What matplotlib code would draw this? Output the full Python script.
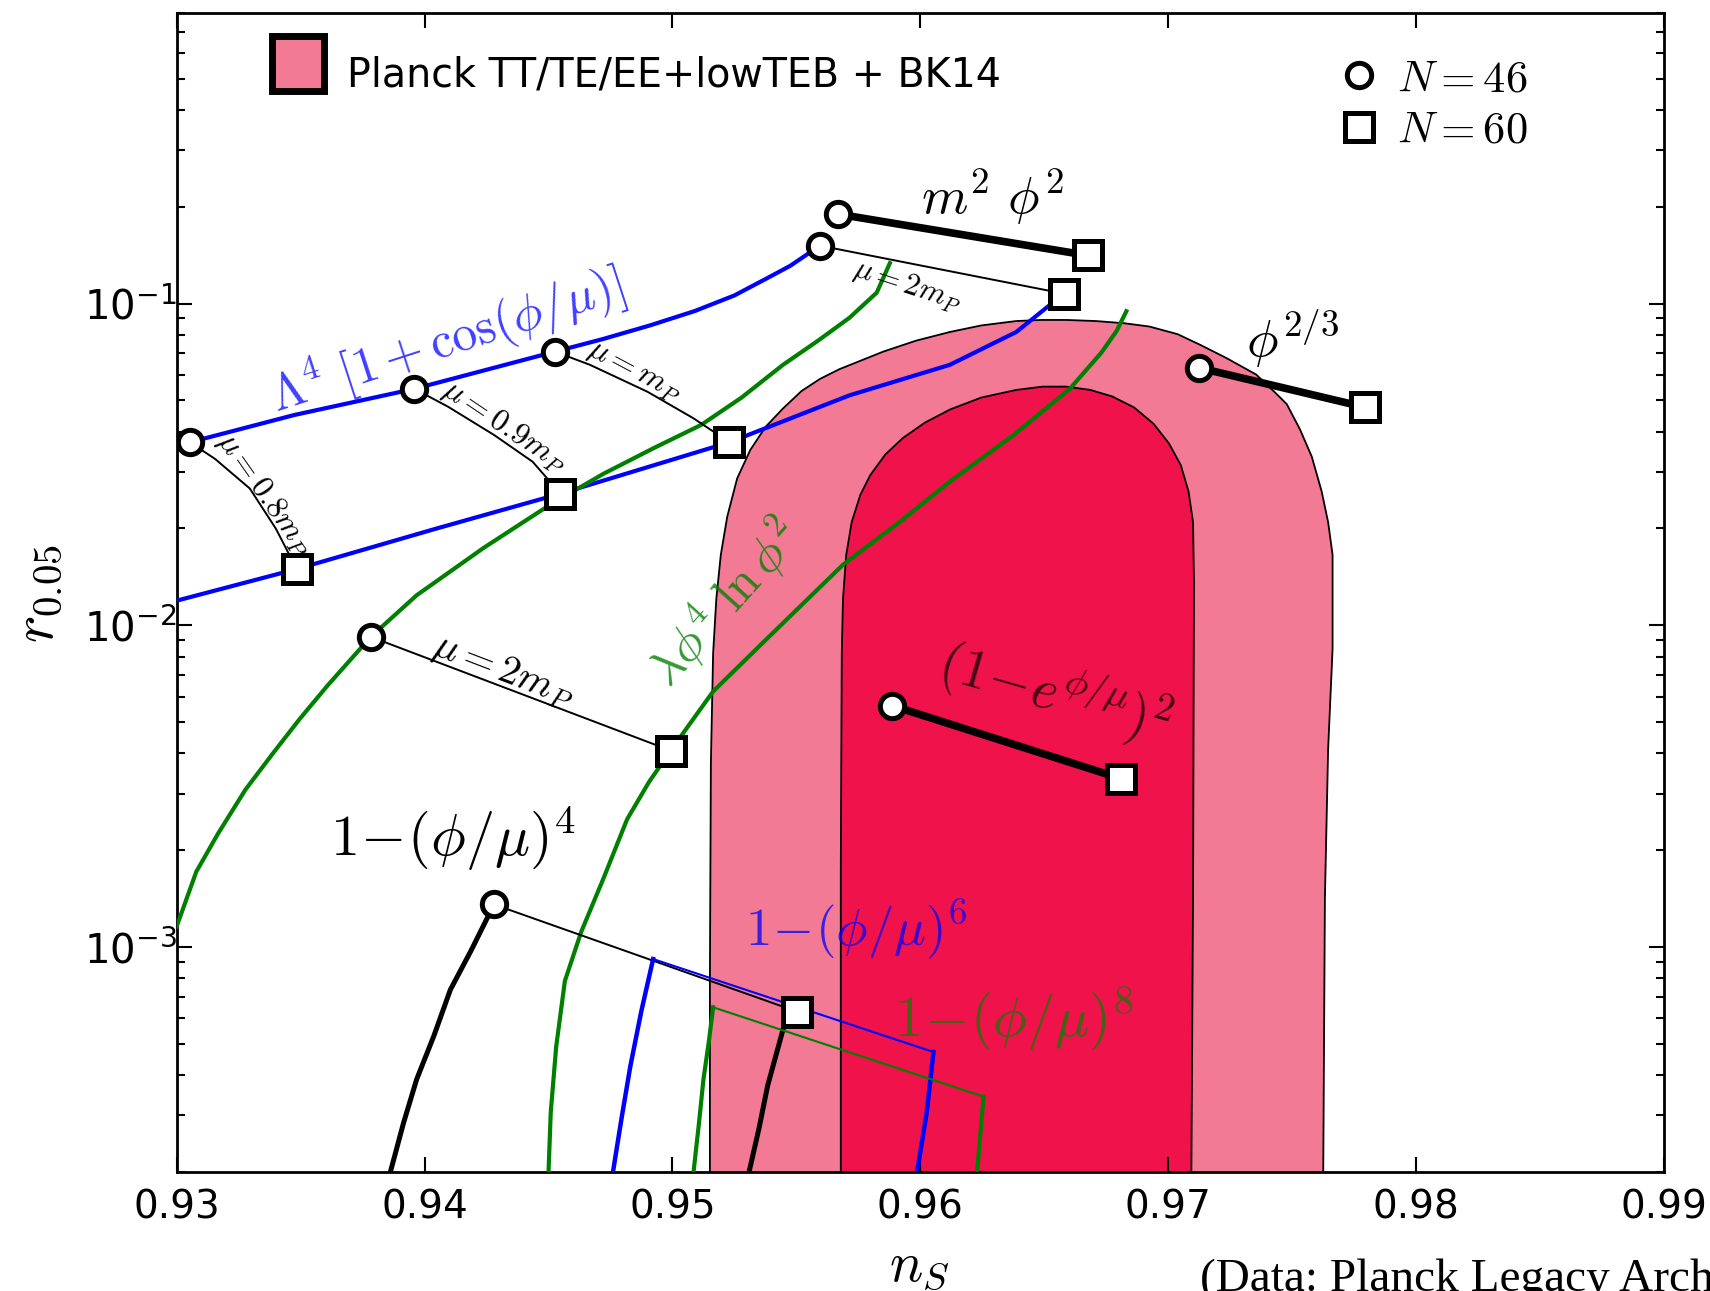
import matplotlib
matplotlib.use("Agg")
import matplotlib.pyplot as plt
import matplotlib.ticker as mticker
from matplotlib.patches import Patch, Rectangle
from matplotlib.lines import Line2D
from matplotlib.legend_handler import HandlerPatch
from matplotlib.font_manager import FontProperties

# --- Planck TT/TE/EE+lowTEB + BK14 contours (outer / inner)
outer_ns = [0.95151, 0.95151, 0.95155, 0.95164, 0.95177, 0.95195, 0.95221, 0.95261, 0.95314,
            0.95375, 0.95446, 0.95521, 0.95595, 0.95674, 0.95762, 0.95850, 0.95982, 0.96119,
            0.96246, 0.96387, 0.96488, 0.96589, 0.96708, 0.96823, 0.96924, 0.97038, 0.97131,
            0.97236, 0.97355, 0.97434, 0.97478, 0.97531, 0.97579, 0.97619, 0.97645, 0.97663,
            0.97663, 0.97645, 0.97632, 0.97623]
outer_r = [1e-4, 7.85e-4, 3.75e-3, 8.19e-3, 0.01211, 0.01656, 0.02177, 0.02862, 0.03508,
           0.04134, 0.04721, 0.05351, 0.05832, 0.06256, 0.06659, 0.07089, 0.07666, 0.08160,
           0.08552, 0.08825, 0.08894, 0.08894, 0.08825, 0.08687, 0.08485, 0.08033, 0.07430,
           0.06764, 0.06016, 0.05266, 0.04871, 0.04071, 0.03346, 0.02606, 0.02093, 0.01656,
           0.00845, 0.00412, 0.00141, 1e-4]
inner_ns = [0.95679, 0.95679, 0.95683, 0.95688, 0.95701, 0.95723, 0.95758, 0.95798, 0.95859,
            0.95930, 0.96018, 0.96119, 0.96246, 0.96387, 0.96493, 0.96589, 0.96686, 0.96774,
            0.96862, 0.96941, 0.97003, 0.97051, 0.97082, 0.97100, 0.97104, 0.97100, 0.97091]
inner_r = [1e-4, 0.001715, 0.00819, 0.01211, 0.01656, 0.02093, 0.02545, 0.02930, 0.03399,
           0.03823, 0.04264, 0.04684, 0.05105, 0.05391, 0.05519, 0.05519, 0.05391, 0.05145,
           0.04757, 0.04231, 0.03675, 0.03144, 0.02606, 0.02093, 0.01362, 0.00141, 1e-4]

# --- natural inflation, N=46 and N=60 tracks
nat46_ns = [0.93053, 0.93475, 0.93959, 0.94526, 0.94720, 0.94909, 0.95090, 0.95250, 0.95380,
            0.95475, 0.95543, 0.95595]
nat46_r = [0.03706, 0.04506, 0.05433, 0.07089, 0.07760, 0.08552, 0.09480, 0.10600, 0.11969,
           0.13100, 0.14215, 0.15135]
nat60_ns = [0.93000, 0.93484, 0.94047, 0.94548, 0.95230, 0.95714, 0.96119, 0.96387, 0.96524, 0.96581]
nat60_r = [0.01193, 0.01496, 0.01998, 0.02566, 0.03706, 0.05186, 0.06452, 0.08160, 0.09922, 0.10730]

# connectors at fixed mu (N=46 -> N=60)
mu08_ns = [0.93053, 0.93154, 0.93295, 0.93400, 0.93484]
mu08_r = [0.03706, 0.03294, 0.02662, 0.01998, 0.01496]
mu09_ns = [0.93959, 0.94095, 0.94281, 0.94436, 0.94548]
mu09_r = [0.05433, 0.04779, 0.03902, 0.03224, 0.02566]
mu10_ns = [0.94526, 0.94667, 0.94899, 0.95085, 0.95230]
mu10_r = [0.07089, 0.06452, 0.05321, 0.04399, 0.03706]
mu20_ns = [0.95595, 0.96581]
mu20_r = [0.15135, 0.10730]

# --- lambda phi^4 ln phi^2 tracks
lnp46_ns = [0.93000, 0.93079, 0.93167, 0.93277, 0.93387, 0.93497, 0.93607, 0.93783, 0.93968,
            0.94236, 0.94500, 0.94720, 0.94927, 0.95116, 0.95279, 0.95446, 0.95587, 0.95714,
            0.95824, 0.95877]
lnp46_r = [0.001160, 0.001715, 0.002254, 0.003083, 0.003990, 0.005126, 0.006479, 0.009211, 0.01240,
           0.01736, 0.02354, 0.02954, 0.03563, 0.04197, 0.05105, 0.06452, 0.07666, 0.09034,
           0.10814, 0.13353]
lnp60_ns = [0.94500, 0.94509, 0.94531, 0.94566, 0.94632, 0.94720, 0.94817, 0.94905, 0.94993,
            0.95164, 0.95380, 0.95688, 0.95916, 0.96119, 0.96378, 0.96603, 0.96730, 0.96792, 0.96831]
lnp60_r = [2.0e-4, 3.07e-4, 4.91e-4, 7.85e-4, 1.116e-3, 1.623e-3, 2.496e-3, 3.256e-3, 4.085e-3,
           6.231e-3, 9.069e-3, 0.01543, 0.02093, 0.02796, 0.03913, 0.05433, 0.07036, 0.08225, 0.09467]

# --- hilltop 1-(phi/mu)^p tracks
hill4_46_ns = [0.93862, 0.93915, 0.93968, 0.94038, 0.94104, 0.94188, 0.94280]
hill4_46_r = [2.0e-4, 2.84e-4, 3.88e-4, 5.31e-4, 7.37e-4, 9.77e-4, 1.357e-3]
hill4_60_ns = [0.95309, 0.95349, 0.95384, 0.95450, 0.95503]
hill4_60_r = [2.0e-4, 2.73e-4, 3.71e-4, 5.69e-4, 6.30e-4]
hill6_46_ns = [0.94760, 0.94795, 0.94830, 0.94874, 0.94922]
hill6_46_r = [2.0e-4, 2.95e-4, 4.26e-4, 6.30e-4, 9.18e-4]
hill6_60_ns = [0.96053, 0.96026, 0.95987]
hill6_60_r = [4.72e-4, 3.07e-4, 2.0e-4]
hill8_46_ns = [0.95085, 0.95107, 0.95125, 0.95147, 0.95164]
hill8_46_r = [2.0e-4, 2.84e-4, 3.88e-4, 5.10e-4, 6.50e-4]
hill8_60_ns = [0.96255, 0.96242, 0.96229]
hill8_60_r = [3.43e-4, 2.63e-4, 2.0e-4]

# --- model end points [N=46, N=60]
m2_ns, m2_r = [0.95666, 0.96677], [0.1898, 0.1411]
phi23_ns, phi23_r = [0.97126, 0.97795], [0.0631, 0.0476]
expo_ns, expo_r = [0.95886, 0.96809], [0.00563, 0.00334]
lnpmu2_ns, lnpmu2_r = [0.93783, 0.94993], [0.00921, 0.00408]
hill4_ns, hill4_r = [0.94280, 0.95503], [0.001357, 0.000630]
nat_circ_ns = [0.93053, 0.93959, 0.94526, 0.95595]
nat_circ_r = [0.03706, 0.05433, 0.07089, 0.15135]
nat_sq_ns = [0.93484, 0.94548, 0.95230, 0.96581]
nat_sq_r = [0.01496, 0.02566, 0.03706, 0.10730]

C_OUT = '#f27a94'
C_IN = '#f0124a'
BLUE = '#0000ff'
GREEN = '#008000'
CM = dict(math_fontfamily='cm')

fig = plt.figure(figsize=(17.1, 12.91), dpi=100)
ax = fig.add_axes([0.10333, 0.09218, 0.86977, 0.89775])
ax.set_yscale('log')

# contours
ax.fill(outer_ns, outer_r, facecolor=C_OUT, edgecolor='k', lw=1.3, zorder=1)
ax.fill(inner_ns, inner_r, facecolor=C_IN, edgecolor='k', lw=1.3, zorder=1)

# coloured tracks
ax.plot(nat46_ns, nat46_r, color=BLUE, lw=3, zorder=3)
ax.plot(nat60_ns, nat60_r, color=BLUE, lw=3, zorder=3)
ax.plot(lnp46_ns, lnp46_r, color=GREEN, lw=3, zorder=3)
ax.plot(lnp60_ns, lnp60_r, color=GREEN, lw=3, zorder=3)
for xs, ys in [(mu08_ns, mu08_r), (mu09_ns, mu09_r), (mu10_ns, mu10_r), (mu20_ns, mu20_r),
               (lnpmu2_ns, lnpmu2_r), (hill4_ns, hill4_r)]:
    ax.plot(xs, ys, color='k', lw=1.4, zorder=3)

ax.plot(hill4_46_ns, hill4_46_r, color='k', lw=3.6, zorder=3)
ax.plot(hill4_60_ns, hill4_60_r, color='k', lw=3.6, zorder=3)
ax.plot(hill6_46_ns, hill6_46_r, color=BLUE, lw=3.2, zorder=3)
ax.plot(hill6_60_ns, hill6_60_r, color=BLUE, lw=3.2, zorder=3)
ax.plot([hill6_46_ns[-1], hill6_60_ns[0]], [hill6_46_r[-1], hill6_60_r[0]], color=BLUE, lw=1.5, zorder=3)
ax.plot(hill8_46_ns, hill8_46_r, color=GREEN, lw=3.0, zorder=3)
ax.plot(hill8_60_ns, hill8_60_r, color=GREEN, lw=3.0, zorder=3)
ax.plot([hill8_46_ns[-1], hill8_60_ns[0]], [hill8_46_r[-1], hill8_60_r[0]], color=GREEN, lw=1.5, zorder=3)

# thick single-field segments
for xs, ys in [(m2_ns, m2_r), (phi23_ns, phi23_r), (expo_ns, expo_r)]:
    ax.plot(xs, ys, color='k', lw=5.5, zorder=4)

# end point markers
circ = dict(marker='o', ms=17.5, mfc='w', mec='k', mew=3.6, ls='none', zorder=5)
sq = dict(marker='s', ms=20.5, mfc='w', mec='k', mew=3.6, ls='none', zorder=5)
all_c_ns = nat_circ_ns + [m2_ns[0], phi23_ns[0], expo_ns[0], lnpmu2_ns[0], hill4_ns[0]]
all_c_r = nat_circ_r + [m2_r[0], phi23_r[0], expo_r[0], lnpmu2_r[0], hill4_r[0]]
all_s_ns = nat_sq_ns + [m2_ns[1], phi23_ns[1], expo_ns[1], lnpmu2_ns[1], hill4_ns[1]]
all_s_r = nat_sq_r + [m2_r[1], phi23_r[1], expo_r[1], lnpmu2_r[1], hill4_r[1]]
ax.plot(all_c_ns, all_c_r, **circ)
ax.plot(all_s_ns, all_s_r, **sq)

# model labels
lab = dict(ha='center', va='center', zorder=6, **CM)
ax.text(0.96290, 0.2151, r'$m^2\ \phi^2$', fontsize=38, color='k', **lab)
ax.text(0.97500, 0.0778, r'$\phi^{2/3}$', fontsize=38, color='k', **lab)
ax.text(0.94091, 0.0761, r'$\Lambda^4\ [1+\cos(\phi/\mu)]$', fontsize=36, color=BLUE,
        alpha=0.75, rotation=18, **lab)
ax.text(0.93352, 0.02545, r'$\mu=0.8m_P$', fontsize=23, rotation=-55, **lab)
ax.text(0.94320, 0.04134, r'$\mu=0.9m_P$', fontsize=23, rotation=-34, **lab)
ax.text(0.94848, 0.06160, r'$\mu=m_P$', fontsize=23, rotation=-28, **lab)
ax.text(0.95947, 0.1133, r'$\mu=2m_P$', fontsize=22, rotation=-18, **lab)
ax.text(0.94320, 0.00723, r'$\mu=2m_P$', fontsize=29, rotation=-21, **lab)
ax.text(0.95209, 0.01177, r'$\lambda\phi^4\ \ln\phi^2$', fontsize=36, color=GREEN,
        alpha=0.8, rotation=48, **lab)
ax.text(0.96545, 0.00618, r'$(1\!-\!e^{\phi/\mu})^2$', fontsize=40, color='k', alpha=0.7,
        rotation=-16, **lab)
ax.text(0.94113, 0.00217, r'$1\!-\!(\phi/\mu)^4$', fontsize=42, color='k', **lab)
ax.text(0.95741, 0.001142, r'$1\!-\!(\phi/\mu)^6$', fontsize=38, color=BLUE, alpha=0.75, **lab)
ax.text(0.96378, 0.000597, r'$1\!-\!(\phi/\mu)^8$', fontsize=41, color=GREEN, alpha=0.7, **lab)

# axes
ax.set_xlim(0.93, 0.99)
ax.set_ylim(2e-4, 0.8)
ax.xaxis.set_major_locator(mticker.MultipleLocator(0.01))
ax.xaxis.set_major_formatter(mticker.FormatStrFormatter('%.2f'))
ax.yaxis.set_minor_formatter(mticker.NullFormatter())
ax.tick_params(which='both', direction='in', top=True, right=True, width=1.5)
ax.tick_params(which='major', length=11, labelsize=28)
ax.tick_params(axis='x', which='major', pad=12)
ax.tick_params(axis='y', which='major', pad=0, labelsize=29)
ax.tick_params(which='minor', length=6)
for s in ax.spines.values():
    s.set_linewidth(2)

ax.set_xlabel(r'$n_S$', fontsize=40, **CM)
ax.set_ylabel(r'$r_{0.05}$', fontsize=42, **CM)
ax.xaxis.set_label_coords(0.499, -0.057)
ax.yaxis.set_label_coords(-0.075, 0.499)


# legend patch drawn a little higher than the text baseline, as in the original
def raised_patch(legend, orig_handle, xdescent, ydescent, width, height, fontsize):
    return Rectangle((-xdescent, -ydescent + 0.256 * fontsize), width, height)


leg1 = ax.legend(handles=[Patch(facecolor=C_OUT, edgecolor='k', lw=5)],
                 labels=['Planck TT/TE/EE+lowTEB + BK14'], loc='upper left',
                 bbox_to_anchor=(0.0642, 0.971), frameon=False, fontsize=28.5,
                 handlelength=1.3, handleheight=1.74, handletextpad=0.6,
                 borderpad=0, borderaxespad=0,
                 handler_map={Patch: HandlerPatch(patch_func=raised_patch)})
ax.add_artist(leg1)
mk = [Line2D([], [], **circ), Line2D([], [], **sq)]
ax.legend(handles=mk, labels=[r'$N=46$', r'$N=60$'], loc='upper right',
          bbox_to_anchor=(0.908, 0.962), frameon=False, numpoints=1,
          prop=FontProperties(size=32, math_fontfamily='cm'),
          handlelength=0.8, handletextpad=0.45, labelspacing=0.2,
          borderpad=0, borderaxespad=0)

fig.text(1200 / 1710, 0.0, '(Data: Planck Legacy Archive)', fontsize=34,
         family='Liberation Serif', ha='left', va='baseline')

fig.savefig('out.png', dpi=100)
